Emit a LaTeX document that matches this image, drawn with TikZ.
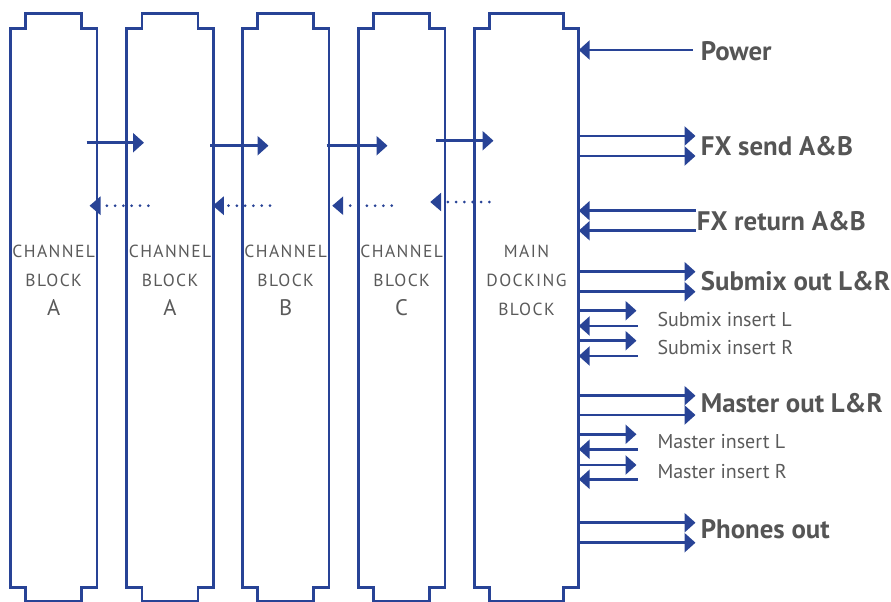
\documentclass[tikz,border=0pt]{standalone}
\usepackage{fontspec}
\setmainfont{PT Sans}
\newfontfamily\blkfont[LetterSpace=8]{PT Sans}
\usetikzlibrary{arrows.meta}
\definecolor{navy}{RGB}{40,67,150}
\definecolor{txtgray}{RGB}{85,85,85}
\definecolor{lblgray}{RGB}{90,90,90}
\newcommand\blockoutline[2]{%
  \draw[outline] (#1.north west) -- ++(15.3,0) -- ++(0,-15) -- ++(#2-30.6,0) -- ++(0,15)
    -- (#1.north east) -- (#1.south east) -- ++(-15.3,0) -- ++(0,14) -- ++(-#2+30.6,0)
    -- ++(0,-14) -- (#1.south west) -- cycle;}
\begin{document}
\begin{tikzpicture}[x=1pt,y=-1pt,
  blk/.style={minimum width=#1, minimum height=559.4pt, inner sep=0pt, outer sep=0pt},
  outline/.style={draw=navy, line width=2.5pt, line join=miter},
  sig/.style={draw=navy, line width=2.5pt, -{Triangle[length=11pt,width=19pt]}},
  sigin/.style={draw=navy, line width=2.5pt, {Triangle[length=11pt,width=19pt]}-},
  dots/.style={draw=navy, line width=3pt, line cap=round, dash pattern=on 0pt off 8.3pt, -{Triangle[length=11pt,width=18pt]}},
  big/.style={anchor=base west, inner sep=0pt, text=txtgray, font=\fontsize{26.8}{30}\selectfont\bfseries},
  small/.style={anchor=base west, inner sep=0pt, text=lblgray, font=\fontsize{20}{24}\selectfont},
  blab/.style={anchor=base, inner sep=0pt, text=lblgray, font=\fontsize{17.5}{20}\selectfont\blkfont},
  blabbig/.style={anchor=base, inner sep=0pt, text=lblgray, font=\fontsize{22.5}{24}\selectfont}
]
\useasboundingbox (0,0) rectangle (891,602);

% blocks
\node[blk=86.7pt] (b1) at (53.65,308) {};
\node[blk=86.7pt] (b2) at (170.05,308) {};
\node[blk=86.7pt] (b3) at (285.65,308) {};
\node[blk=86.7pt] (b4) at (401.65,308) {};
\node[blk=104.4pt] (b5) at (526.5,308) {};
\blockoutline{b1}{86.7}
\blockoutline{b2}{86.7}
\blockoutline{b3}{86.7}
\blockoutline{b4}{86.7}
\blockoutline{b5}{104.4}

% block labels
\node[blab] (t1a) at (53.65,257.3) {CHANNEL};
\node[blab] (t1b) at (53.65,286) {BLOCK};
\node[blabbig] (t1c) at (53.65,315) {A};
\node[blab] (t2a) at (170.05,257.3) {CHANNEL};
\node[blab] (t2b) at (170.05,286) {BLOCK};
\node[blabbig] (t2c) at (170.05,315) {A};
\node[blab] (t3a) at (285.65,257.3) {CHANNEL};
\node[blab] (t3b) at (285.65,286) {BLOCK};
\node[blabbig] (t3c) at (285.65,315) {B};
\node[blab] (t4a) at (401.65,257.3) {CHANNEL};
\node[blab] (t4b) at (401.65,286) {BLOCK};
\node[blabbig] (t4c) at (401.65,315) {C};
\node[blab] (t5a) at (526.5,257.3) {MAIN};
\node[blab] (t5b) at (526.5,286) {DOCKING};
\node[blab] (t5c) at (526.5,315) {BLOCK};

% inter-block connectors
\draw[sig] (86.7,142.7) -- (144,142.7);
\draw[sig] (210,145.7) -- (268.5,145.7);
\draw[sig] (326.7,145.7) -- (387.5,145.7);
\draw[sig] (435.7,140.7) -- (493.5,140.7);
\draw[dots] (148.3,205.7) -- (89.5,205.7);
\draw[dots] (270,205.7) -- (212.8,205.7);
\draw[dots] (391.7,205.7) -- (332.2,205.7);
\draw[dots] (489.3,202) -- (430.2,202);

% right side labels
\node[big] (pow) at (700.7,61) {Power};
\node[big] (fxs) at (700.7,155) {FX send A\&B};
\node[big] (fxr) at (696.7,230.7) {FX return A\&B};
\node[big] (sub) at (700.7,290.7) {Submix out L\&R};
\node[small] (sil) at (657.3,326) {Submix insert L};
\node[small] (sir) at (657.3,354.3) {Submix insert R};
\node[big] (mas) at (700.7,412.7) {Master out L\&R};
\node[small] (mil) at (657.3,448.3) {Master insert L};
\node[small] (mir) at (657.3,478.3) {Master insert R};
\node[big] (pho) at (700.7,538.3) {Phones out};

% right side connectors
\draw[sigin] (b5.east |- 0,50) -- (693.3,50);
\draw[sig] (b5.east |- 0,136) -- (695.5,136);
\draw[sig] (b5.east |- 0,156) -- (695.5,156);
\draw[sigin] (b5.east |- 0,210.7) -- (696,210.7);
\draw[sigin] (b5.east |- 0,230.7) -- (696,230.7);
\draw[sig] (b5.east |- 0,271.7) -- (695.5,271.7);
\draw[sig] (b5.east |- 0,291.7) -- (695.5,291.7);
\draw[sig] (b5.east |- 0,310.7) -- (636.5,310.7);
\draw[sigin] (b5.east |- 0,326) -- (638.3,326);
\draw[sig] (b5.east |- 0,340.7) -- (636.5,340.7);
\draw[sigin] (b5.east |- 0,356) -- (638.3,356);
\draw[sig] (b5.east |- 0,395.7) -- (695.5,395.7);
\draw[sig] (b5.east |- 0,415) -- (695.5,415);
\draw[sig] (b5.east |- 0,434.3) -- (636.5,434.3);
\draw[sigin] (b5.east |- 0,449.3) -- (638.3,449.3);
\draw[sig] (b5.east |- 0,465) -- (636.5,465);
\draw[sigin] (b5.east |- 0,479.3) -- (638.3,479.3);
\draw[sig] (b5.east |- 0,522.7) -- (695.5,522.7);
\draw[sig] (b5.east |- 0,542.7) -- (695.5,542.7);
\end{tikzpicture}
\end{document}
